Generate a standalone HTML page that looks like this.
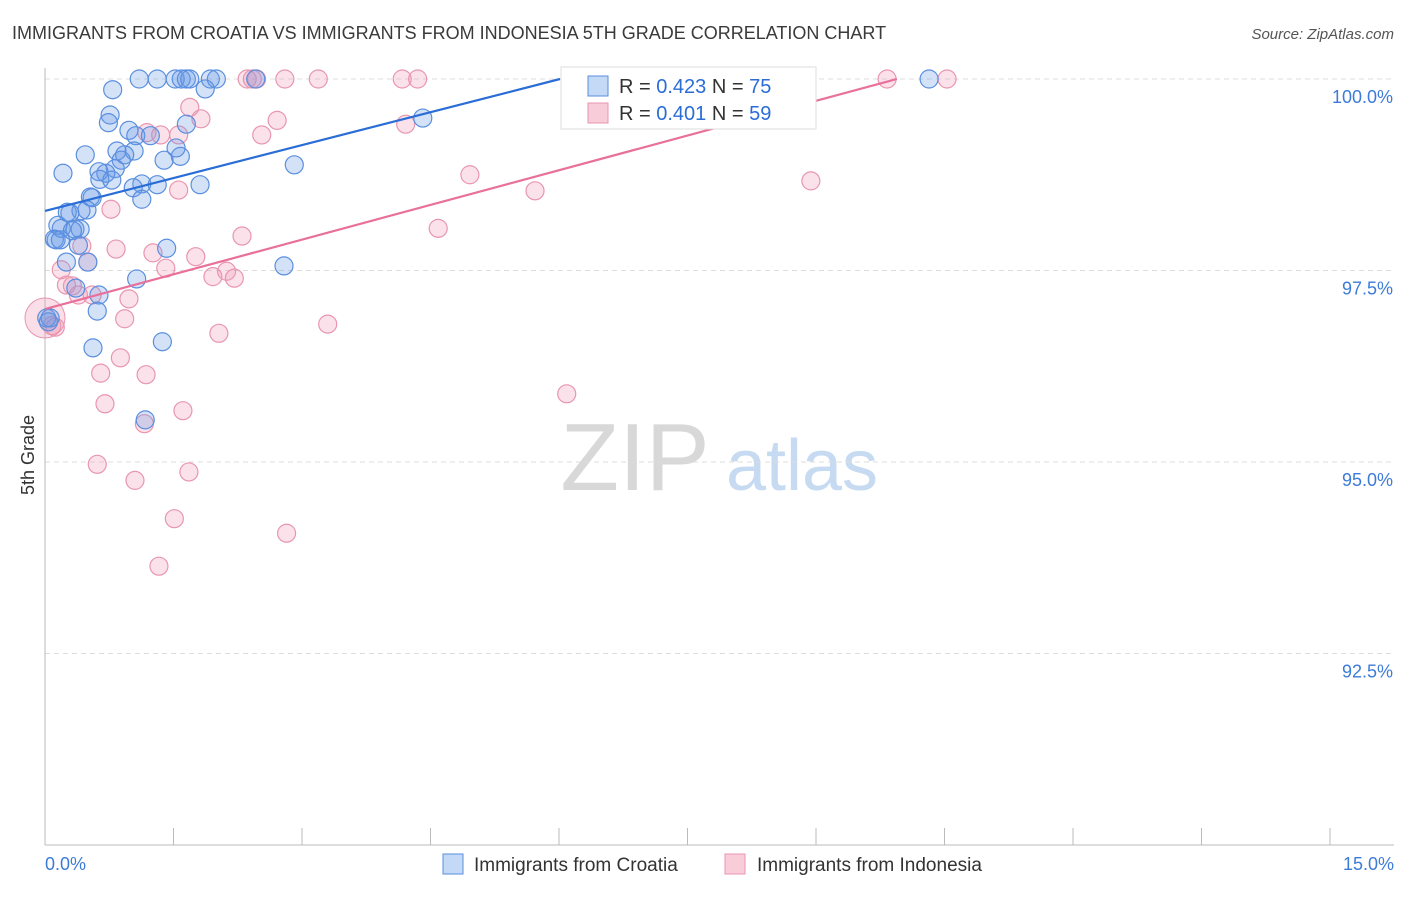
<!DOCTYPE html>
<html><head><meta charset="utf-8"><style>
body{margin:0;background:#fff;font-family:"Liberation Sans",sans-serif;}
svg text{font-family:"Liberation Sans",sans-serif;}
</style></head><body>
<svg id="chart" width="1406" height="892" xmlns="http://www.w3.org/2000/svg">
<text x="12" y="39" font-size="18" fill="#3a3a3a">IMMIGRANTS FROM CROATIA VS IMMIGRANTS FROM INDONESIA 5TH GRADE CORRELATION CHART</text>
<text x="1394" y="39" font-size="15" fill="#555" text-anchor="end" font-style="italic">Source: ZipAtlas.com</text>
<text x="34" y="455" font-size="18" fill="#333" text-anchor="middle" transform="rotate(-90 34 455)">5th Grade</text>
<g>
<text x="635" y="490" font-size="96" fill="#d8d8d8" text-anchor="middle" font-family="Liberation Serif, serif">ZIP</text>
<text x="802" y="490" font-size="72" fill="#c6daf2" text-anchor="middle">atlas</text>
</g>
<g id="grid"></g><g id="axes"></g><g id="pts"></g><g id="lines"></g>
<g>
<rect x="561" y="67" width="255" height="62" fill="#fff" stroke="#ddd"/>
<rect x="588" y="76" width="20" height="20" fill="#c4d9f6" stroke="#5a8fdf"/>
<text x="619" y="93" font-size="20" fill="#333">R = <tspan fill="#2a6dd6">0.423</tspan>   N = <tspan fill="#2a6dd6">75</tspan></text>
<rect x="588" y="103" width="20" height="20" fill="#f8ccd9" stroke="#e896b0"/>
<text x="619" y="120" font-size="20" fill="#333">R = <tspan fill="#2a6dd6">0.401</tspan>   N = <tspan fill="#2a6dd6">59</tspan></text>
</g>
<g>
<rect x="443" y="854" width="20" height="20" fill="#c4d9f6" stroke="#5a8fdf"/>
<text x="474" y="871" font-size="19" fill="#333">Immigrants from Croatia</text>
<rect x="725" y="854" width="20" height="20" fill="#f8ccd9" stroke="#e896b0"/>
<text x="757" y="871" font-size="19" fill="#333">Immigrants from Indonesia</text>
</g>
</svg>
<script>
const xTicks=[0,1.5,3,4.5,6,7.5,9,10.5,12,13.5,15];
const yTicks=[100,97.5,95,92.5];
const yTickLabels=["100.0%","97.5%","95.0%","92.5%"];
const blueX=[1.10,1.31,1.52,1.59,1.65,1.69,1.93,2.00,2.46,10.32,0.79,1.87,0.76,0.74,1.65,0.98,1.06,1.23,0.84,1.04,0.47,0.93,1.53,1.58,1.39,0.89,2.91,0.21,0.82,0.71,0.63,0.64,0.78,1.13,1.31,1.03,1.81,0.53,0.55,1.13,0.26,0.49,0.42,0.29,0.15,0.41,0.19,0.35,0.32,0.11,0.13,0.18,0.39,1.42,0.50,0.25,2.79,1.07,0.63,0.36,0.61,0.02,0.06,0.04,0.56,1.37,1.17,4.41];
const blueY=[100,100,100,100,100,100,100,100,100,100,99.86,99.87,99.53,99.43,99.41,99.33,99.26,99.26,99.06,99.06,99.01,99.01,99.10,98.99,98.94,98.94,98.88,98.77,98.83,98.77,98.79,98.69,98.68,98.63,98.62,98.58,98.62,98.46,98.45,98.43,98.26,98.29,98.28,98.25,98.09,98.04,98.05,98.04,98.02,97.91,97.90,97.90,97.83,97.79,97.61,97.61,97.56,97.39,97.18,97.27,96.97,96.88,96.88,96.83,96.49,96.57,95.55,99.49];
const pinkX=[2.36,2.42,2.47,2.80,3.19,4.17,4.35,9.83,10.53,1.69,1.82,2.71,2.53,1.19,1.35,1.56,4.21,4.96,5.72,8.94,1.56,0.77,4.59,2.30,0.43,0.83,1.26,1.76,0.50,0.19,1.41,1.96,2.12,2.21,0.32,0.25,0.39,0.55,0.98,0.93,2.03,3.30,0.08,0.12,0.88,0.65,1.18,6.09,0.70,1.61,1.16,0.61,1.68,1.05,1.51,2.82,1.33];
const pinkY=[100,100,100,100,100,100,100,100,100,99.63,99.48,99.46,99.27,99.30,99.27,99.27,99.41,98.75,98.54,98.67,98.55,98.30,98.05,97.95,97.82,97.78,97.73,97.68,97.61,97.51,97.53,97.42,97.49,97.40,97.30,97.31,97.18,97.18,97.13,96.87,96.68,96.80,96.78,96.76,96.36,96.16,96.14,95.89,95.76,95.67,95.50,94.97,94.87,94.76,94.26,94.07,93.64];
const blueFit=[98.277,0.2866];
const pinkFit=[96.997,0.3020];
const NS="http://www.w3.org/2000/svg";
const X0=45,X1=1330,Y100=79,PXY=76.6;
function sx(v){return X0+(v/15)*(X1-X0);}
function sy(v){return Y100+(100-v)*PXY;}
function mk(tag,attrs,parent){const e=document.createElementNS(NS,tag);for(const k in attrs)e.setAttribute(k,attrs[k]);parent.appendChild(e);return e;}
const grid=document.getElementById('grid'),axes=document.getElementById('axes'),pts=document.getElementById('pts'),lines=document.getElementById('lines');
yTicks.forEach((t,i)=>{
 const l=mk('line',{x1:X0,x2:1394,y1:sy(t),y2:sy(t),stroke:'#ddd','stroke-dasharray':'5,4'},grid);
 
 
 const tx=mk('text',{x:1393,y:sy(t)+24,'font-size':18,fill:'#3d7bd8','text-anchor':'end'},axes);
 tx.textContent=yTickLabels[i];
 
 
});
const ya=mk('line',{x1:X0,x2:X0,y1:68,y2:845,stroke:'#bbb'},axes);


const xa=mk('line',{x1:X0,x2:1394,y1:845,y2:845,stroke:'#bbb'},axes);


xTicks.forEach(t=>{
 const l=mk('line',{x1:sx(t),x2:sx(t),y1:828,y2:845,stroke:'#bbb'},axes);
 
 
});
const xl0=mk('text',{x:45,y:870,'font-size':18,fill:'#3d7bd8'},axes);xl0.textContent='0.0%';


const xl1=mk('text',{x:1394,y:870,'font-size':18,fill:'#3d7bd8','text-anchor':'end'},axes);xl1.textContent='15.0%';


const big=mk('circle',{cx:sx(0),cy:sy(96.88),r:20,fill:'rgba(240,150,180,0.3)',stroke:'#e896b0'},pts);


pinkX.forEach((x,i)=>{
 const c=mk('circle',{cx:sx(x),cy:sy(pinkY[i]),r:9,fill:'rgba(240,150,180,0.28)',stroke:'#e896b0','stroke-width':1.2},pts);
 
 
});
blueX.forEach((x,i)=>{
 const c=mk('circle',{cx:sx(x),cy:sy(blueY[i]),r:9,fill:'rgba(100,150,230,0.28)',stroke:'#5a8fdf','stroke-width':1.2},pts);
 
 
});
function fit(f,xe,color,name){
 const l=mk('line',{x1:sx(0),y1:sy(f[0]),x2:sx(xe),y2:sy(f[0]+f[1]*xe),stroke:color,'stroke-width':2.2},lines);
 
 
}
fit(blueFit,(100-blueFit[0])/blueFit[1],'#2a6dd6','trendline-croatia');
fit(pinkFit,(100-pinkFit[0])/pinkFit[1],'#e8709a','trendline-indonesia');
</script>
</body></html>
